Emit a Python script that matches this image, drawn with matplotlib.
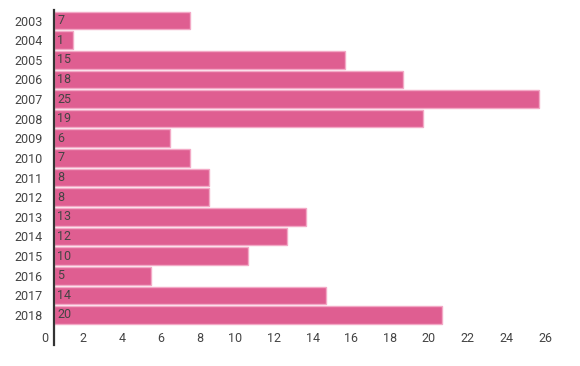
import matplotlib
matplotlib.use("Agg")
import matplotlib.pyplot as plt
from matplotlib.transforms import offset_copy

years = ['2003', '2004', '2005', '2006', '2007', '2008', '2009', '2010',
         '2011', '2012', '2013', '2014', '2015', '2016', '2017', '2018']
counts = [7, 1, 15, 18, 25, 19, 6, 7, 8, 8, 13, 12, 10, 5, 14, 20]
x_ticks = [0, 2, 4, 6, 8, 10, 12, 14, 16, 18, 20, 22, 24, 26]

plt.rcParams['font.family'] = ['Roboto', 'DejaVu Sans']
text_col = '#444444'

W, H = 580, 366
fig = plt.figure(figsize=(W / 100, H / 100), dpi=100)
# axes placed in pixels: left 54, right 568, top 10, bottom 345
ax = fig.add_axes([54 / W, (H - 345) / H, (568 - 54) / W, (345 - 10) / H])

ypos = list(range(len(years)))
ax.barh(ypos, counts, height=0.9, color='#df5e91', edgecolor='#f3a9c6', linewidth=1)

ax.set_xlim(0, 26.5)
ax.set_ylim(16.53, -0.535)

ax.set_yticks(ypos)
ax.set_yticklabels(years)
ax.tick_params(axis='y', length=0, pad=8, labelsize=9, labelcolor=text_col)

# value labels inside bars
for i, v in enumerate(counts):
    ax.text(0, i, str(v), transform=offset_copy(ax.transData, fig=fig, x=3, y=0, units='dots'),
            ha='left', va='center', fontsize=9, color=text_col)

# x tick labels sit inside the axes area, right-aligned left of the tick
ax.set_xticks([])
for t in x_ticks:
    ax.text(t, 16.18, str(t),
            transform=offset_copy(ax.transData, fig=fig, x=-6, y=0, units='dots'),
            ha='right', va='center', fontsize=9, color=text_col)

for s in ['top', 'right', 'bottom']:
    ax.spines[s].set_visible(False)
ax.spines['left'].set_color('#333333')
ax.spines['left'].set_linewidth(1.6)

fig.savefig('out.png', dpi=100)
